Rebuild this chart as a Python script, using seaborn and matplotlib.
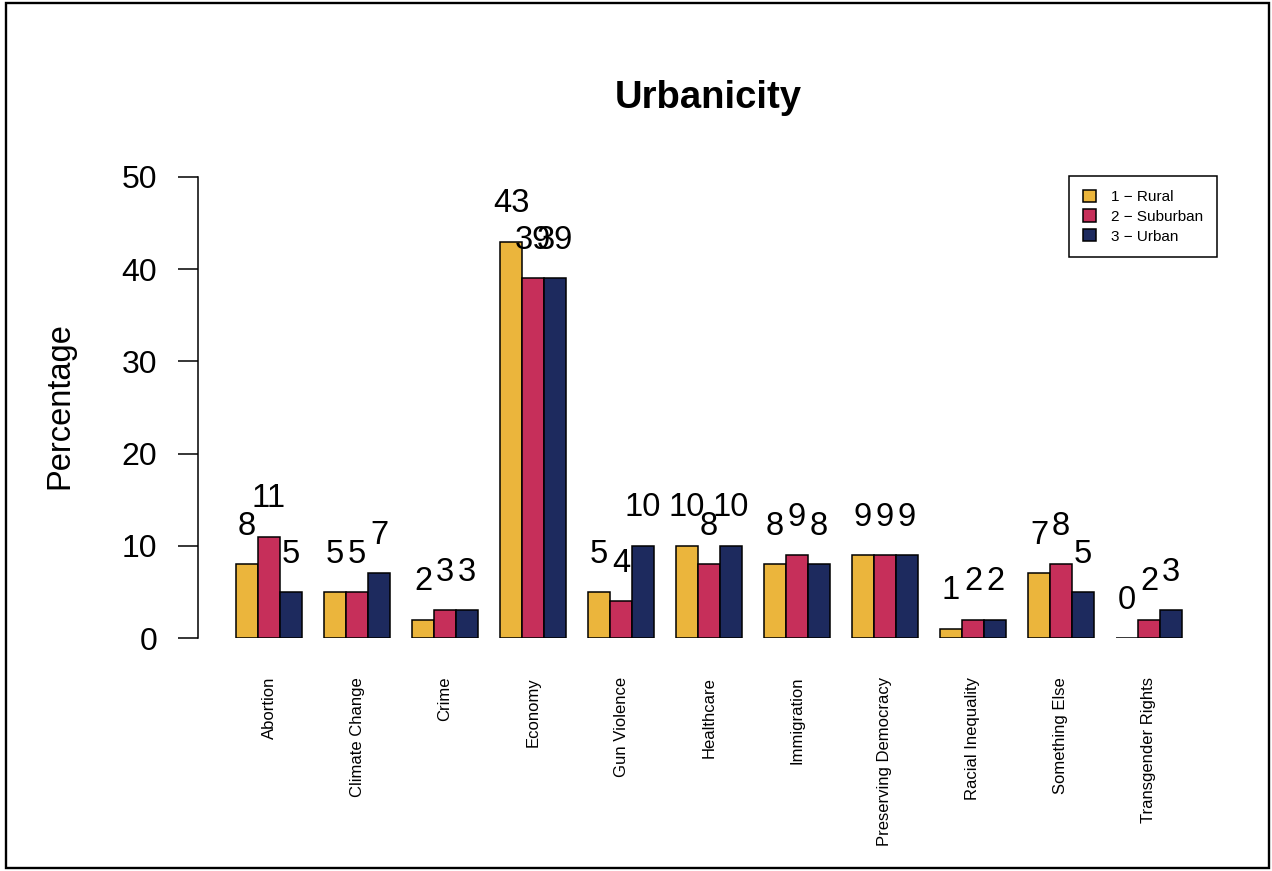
import matplotlib
matplotlib.use("Agg")
import matplotlib.pyplot as plt
from matplotlib.patches import Patch, Rectangle
import seaborn as sns
import pandas as pd

categories = ["Abortion", "Climate Change", "Crime", "Economy", "Gun Violence",
              "Healthcare", "Immigration", "Preserving Democracy",
              "Racial Inequality", "Something Else", "Transgender Rights"]
groups = ["1 \u2212 Rural", "2 \u2212 Suburban", "3 \u2212 Urban"]
rural = [8, 5, 2, 43, 5, 10, 8, 9, 1, 7, 0]
suburban = [11, 5, 3, 39, 4, 8, 9, 9, 2, 8, 2]
urban = [5, 7, 3, 39, 10, 10, 8, 9, 2, 5, 3]
colors = ["#EBB53C", "#C62F5A", "#1D2A5E"]
yticks = [0, 10, 20, 30, 40, 50]

rows = []
for g, vals in zip(groups, [rural, suburban, urban]):
    for c, v in zip(categories, vals):
        rows.append({"Issue": c, "Group": g, "Pct": v})
df = pd.DataFrame(rows)

sns.set_theme(style="white")
plt.rcParams["font.family"] = ["Liberation Sans", "DejaVu Sans"]
for k in ["text.color", "axes.labelcolor", "xtick.color", "ytick.color"]:
    plt.rcParams[k] = "black"

W, H = 1272, 871
fig = plt.figure(figsize=(W / 100, H / 100), dpi=100)
ax_left, ax_right, ax_top, ax_bottom = 198, 1220, 177, 638
ax = fig.add_axes([ax_left / W, 1 - ax_bottom / H, (ax_right - ax_left) / W, (ax_bottom - ax_top) / H])

sns.barplot(data=df, x="Issue", y="Pct", hue="Group", order=categories,
            hue_order=groups, palette=colors, saturation=1, width=0.75,
            edgecolor="black", linewidth=1.1, ax=ax, legend=False, errorbar=None)

for cont in ax.containers:
    for bar in cont:
        h = bar.get_height()
        ax.text(bar.get_x() + bar.get_width() / 2, h + 4.1, f"{int(round(h))}",
                ha="center", va="center", fontsize=23.5, color="black")

ax.set_xlim(-0.807, 10.807)
ax.set_ylim(0, 50)
ax.set_yticks(yticks)
ax.set_yticklabels([str(t) for t in yticks], fontsize=23)
ax.set_xticks(range(len(categories)))
ax.set_xticklabels(categories, rotation=90, fontsize=12, va="top", ha="center")
ax.tick_params(axis="x", length=0, pad=28)
ax.tick_params(axis="y", length=14.5, width=1.1, pad=15, colors="black", left=True)
for s in ["top", "right", "bottom"]:
    ax.spines[s].set_visible(False)
ax.spines["left"].set_color("black")
ax.spines["left"].set_linewidth(1.1)
ax.set_xlabel("")
ax.set_ylabel("")
ax.patch.set_alpha(0)

fig.text(60 / W, 1 - 406 / H, "Percentage", rotation=90, ha="center", va="center",
         fontsize=23.5, color="black")
fig.text(708 / W, 1 - 98 / H, "Urbanicity", ha="center", va="center", fontsize=27.5,
         fontweight="bold", color="black")

handles = [Patch(facecolor=c, edgecolor="black", linewidth=1.1) for c in colors]
leg = ax.legend(handles, groups, loc="upper right",
                bbox_to_anchor=(1217 / W, 1 - 176 / H), bbox_transform=fig.transFigure,
                borderaxespad=0, fontsize=11, frameon=True, fancybox=False,
                borderpad=0.9, handlelength=0.85, handleheight=0.85,
                handletextpad=1.0, labelspacing=0.35)
leg.get_frame().set_edgecolor("black")
leg.get_frame().set_linewidth(1.1)
leg.get_frame().set_alpha(1)

fig.patches.append(Rectangle((6 / W, 3 / H), (1269 - 6) / W, (868 - 3) / H,
                             transform=fig.transFigure, fill=False,
                             edgecolor="black", linewidth=1.7))

fig.savefig("out.png", dpi=100, facecolor="white")
